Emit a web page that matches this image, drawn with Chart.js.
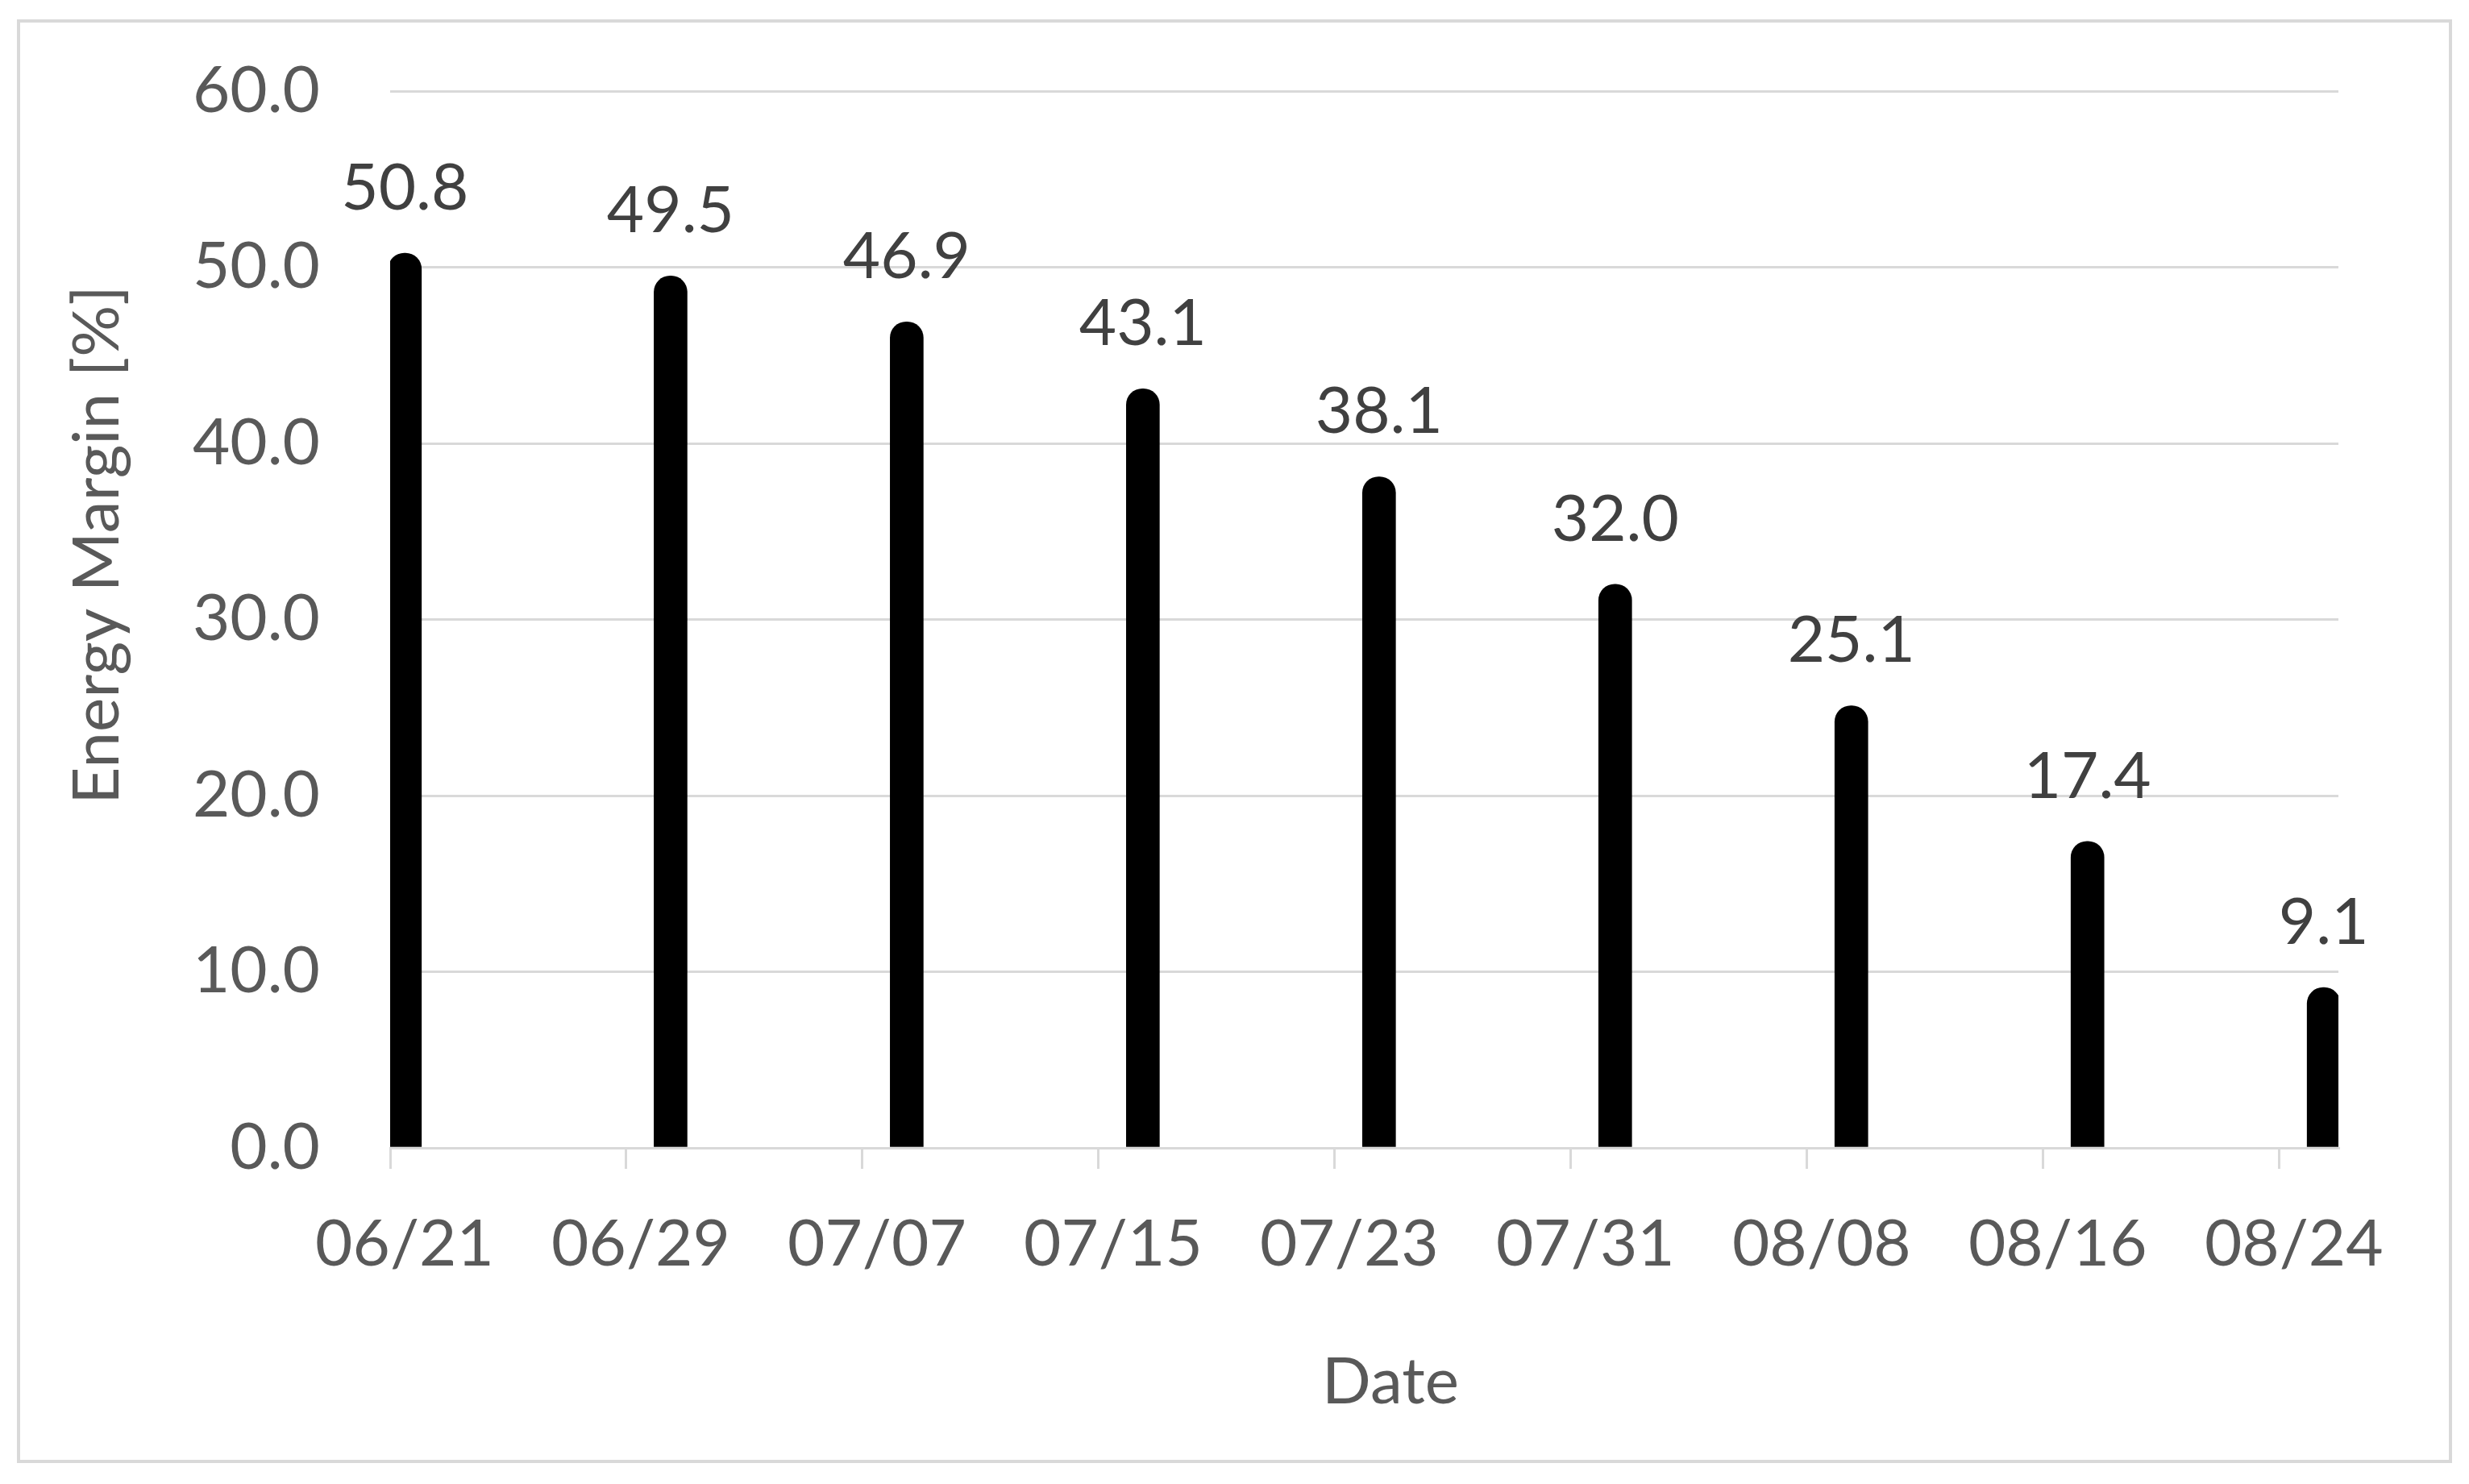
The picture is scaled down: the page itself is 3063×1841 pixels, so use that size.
<!DOCTYPE html>
<html><head><meta charset="utf-8">
<script src="https://cdn.jsdelivr.net/npm/chart.js@4.4.0/dist/chart.umd.min.js"></script>
<style>
html,body{margin:0;padding:0;background:#fff;}
#wrap{position:relative;width:3063px;height:1841px;}
#frame{position:absolute;left:21px;top:24px;width:3021px;height:1791px;box-sizing:border-box;border:4px solid #d9d9d9;}
canvas{position:absolute;left:0;top:0;}
</style></head><body>
<div id="wrap"><div id="frame"></div><canvas id="c" width="3063" height="1841"></canvas></div>
<script>
// ---- data ----
const measureDates = ['06/21','06/30','07/08','07/16','07/24','08/01','08/09','08/17','08/25'];
const energyMargin = [50.8, 49.5, 46.9, 43.1, 38.1, 32.0, 25.1, 17.4, 9.1];
const xTickLabels = ['06/21','06/29','07/07','07/15','07/23','07/31','08/08','08/16','08/24'];
const axisStartDate = '06/21';
const axisEndDate = '08/26';
const yMin = 0, yMax = 60, yStep = 10;
const yTitle = 'Energy Margin [%]';
const xTitle = 'Date';

// ---- helpers ----
function dayNumber(mmdd){ const [m,d] = mmdd.split('/').map(Number); return Date.UTC(2000, m-1, d)/86400000; }
const d0 = dayNumber(axisStartDate);
const barPoints = measureDates.map((s,i)=>({x: dayNumber(s)-d0+0.5, y: energyMargin[i]}));
const tickDays = xTickLabels.map(s=>dayNumber(s)-d0);
const xMaxDay = dayNumber(axisEndDate)-d0;

const FONT = 'Lato, "Open Sans", sans-serif';
const TXT = '#595959';
const GRID = '#d9d9d9';

const labelsPlugin = {
  id: 'labelsPlugin',
  afterDatasetsDraw(chart){
    const ctx = chart.ctx;
    const meta = chart.getDatasetMeta(0);
    ctx.save();
    ctx.font = '80px ' + FONT;
    ctx.fillStyle = '#404040';
    ctx.textAlign = 'center';
    ctx.textBaseline = 'middle';
    meta.data.forEach((el,i)=>{
      ctx.fillText(energyMargin[i].toFixed(1), el.x, el.y - 80);
    });
    ctx.restore();
  },
  afterDraw(chart){
    const ctx = chart.ctx;
    ctx.save();
    ctx.font = '80px ' + FONT;
    ctx.fillStyle = TXT;
    ctx.textAlign = 'center';
    ctx.textBaseline = 'middle';
    ctx.fillText(xTitle, 1725, 1715);
    ctx.translate(121, 676);
    ctx.rotate(-Math.PI/2);
    ctx.fillText(yTitle, 0, 0);
    ctx.restore();
  }
};

new Chart(document.getElementById('c'), {
  type: 'bar',
  data: {
    datasets: [{
      data: barPoints,
      backgroundColor: '#000000',
      barThickness: 41,
      borderRadius: {topLeft: 20, topRight: 20, bottomLeft: 0, bottomRight: 0},
      borderSkipped: 'start'
    }]
  },
  options: {
    responsive: false,
    animation: false,
    devicePixelRatio: 1,
    layout: { padding: { left: 0, top: 113, right: 162, bottom: 0 } },
    plugins: { legend: {display:false}, tooltip: {enabled:false} },
    scales: {
      x: {
        type: 'linear',
        offset: false,
        min: 0, max: xMaxDay,
        afterBuildTicks(scale){ scale.ticks = tickDays.map(v=>({value:v})); },
        afterFit(scale){ scale.height = 1841 - 1424; scale.paddingLeft = 0; scale.paddingRight = 0; },
        grid: { offset:false, drawOnChartArea:false, drawTicks:true, tickLength:26, color:GRID, lineWidth:3 },
        border: { display:true, color:GRID, width:3 },
        ticks: {
          autoSkip:false, maxRotation:0, minRotation:0,
          labelOffset: 18,
          padding: 46,
          color: TXT,
          font: { family: FONT, size: 80 },
          callback: (v, i) => xTickLabels[i]
        }
      },
      y: {
        min: yMin, max: yMax,
        afterFit(scale){ scale.width = 484; scale.paddingTop = 0; scale.paddingBottom = 0; },
        grid: { color:GRID, lineWidth:3, drawTicks:false },
        border: { display:false },
        ticks: {
          stepSize: yStep,
          padding: 87,
          color: TXT,
          font: { family: FONT, size: 80 },
          callback: v => Number(v).toFixed(1)
        }
      }
    }
  },
  plugins: [labelsPlugin]
});
</script>
</body></html>
